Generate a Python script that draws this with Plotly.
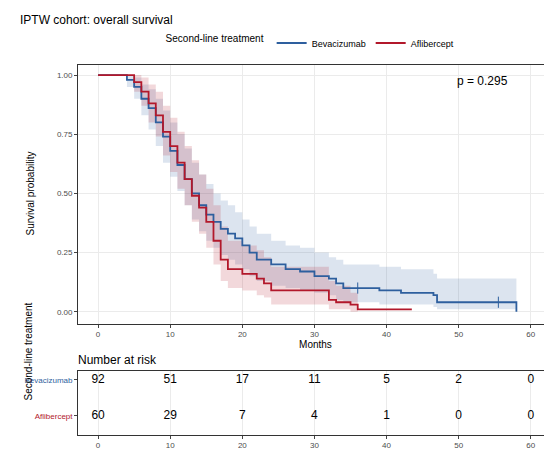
import plotly.graph_objects as go

bev_t = [0, 4, 5, 6, 7, 8, 9, 10, 11, 12, 13, 14, 15, 16, 17, 18, 19, 20, 21, 22, 24, 26, 28, 30, 32, 33, 34, 39, 42, 46.5, 47, 58, 58]
bev_s = [1.0, 0.98, 0.95, 0.9, 0.86, 0.8, 0.74, 0.68, 0.62, 0.56, 0.5, 0.45, 0.41, 0.38, 0.35, 0.33, 0.31, 0.28, 0.25, 0.22, 0.2, 0.18, 0.17, 0.15, 0.14, 0.12, 0.1, 0.09, 0.08, 0.07, 0.04, 0.04, 0.0]
bev_lo = [1.0, 0.95, 0.9, 0.83, 0.77, 0.7, 0.63, 0.57, 0.51, 0.45, 0.39, 0.34, 0.3, 0.27, 0.24, 0.22, 0.2, 0.18, 0.15, 0.13, 0.11, 0.1, 0.09, 0.08, 0.07, 0.05, 0.04, 0.03, 0.03, 0.02, 0.01, 0.01, 0.01]
bev_hi = [1.0, 1.0, 0.99, 0.96, 0.94, 0.9, 0.85, 0.8, 0.75, 0.69, 0.63, 0.58, 0.54, 0.5, 0.47, 0.45, 0.42, 0.39, 0.36, 0.33, 0.3, 0.28, 0.27, 0.25, 0.23, 0.22, 0.2, 0.19, 0.18, 0.16, 0.14, 0.14, 0.14]

afl_t = [0, 5, 6, 7, 8, 9, 10, 11, 12, 13, 14, 15, 16, 17, 18, 20, 22, 23, 24, 32, 33, 35, 36, 43.5]
afl_s = [1.0, 0.97, 0.93, 0.88, 0.83, 0.76, 0.7, 0.63, 0.56, 0.49, 0.44, 0.38, 0.3, 0.22, 0.18, 0.16, 0.14, 0.12, 0.09, 0.05, 0.04, 0.03, 0.01, 0.01]
afl_lo = [1.0, 0.93, 0.87, 0.8, 0.74, 0.66, 0.59, 0.52, 0.45, 0.38, 0.33, 0.27, 0.2, 0.13, 0.1, 0.09, 0.07, 0.06, 0.03, 0.01, 0.01, 0.0, 0.0, 0.0]
afl_hi = [1.0, 1.0, 0.99, 0.96, 0.93, 0.87, 0.82, 0.76, 0.7, 0.64, 0.58, 0.52, 0.45, 0.36, 0.3, 0.28, 0.26, 0.23, 0.19, 0.13, 0.11, 0.08, 0.0, 0.0]

bev_cens_t = [36, 55.5]
bev_cens_s = [0.10, 0.04]

risk_times = [0, 10, 20, 30, 40, 50, 60]
bev_risk = [92, 51, 17, 11, 5, 2, 0]
afl_risk = [60, 29, 7, 4, 1, 0, 0]

BLUE = "#2e5f9e"
RED = "#b2182b"

fig = go.Figure()
for t, lo, hi, fc in [(bev_t, bev_lo, bev_hi, "rgba(46,95,158,0.17)"),
                      (afl_t, afl_lo, afl_hi, "rgba(178,24,43,0.17)")]:
    fig.add_trace(go.Scatter(x=t, y=lo, mode="lines", line=dict(width=0, shape="hv"), showlegend=False, hoverinfo="skip"))
    fig.add_trace(go.Scatter(x=t, y=hi, mode="lines", line=dict(width=0, shape="hv"), fill="tonexty",
                             fillcolor=fc, showlegend=False, hoverinfo="skip"))
fig.add_trace(go.Scatter(x=bev_t, y=bev_s, mode="lines", name="Bevacizumab", legendrank=1,
                         line=dict(color=BLUE, width=1.8, shape="hv")))
fig.add_trace(go.Scatter(x=afl_t, y=afl_s, mode="lines", name="Aflibercept", legendrank=2,
                         line=dict(color=RED, width=1.8, shape="hv")))
fig.add_trace(go.Scatter(x=bev_cens_t, y=bev_cens_s, mode="markers", showlegend=False,
                         marker=dict(symbol="line-ns", size=8, line=dict(color=BLUE, width=1))))

for vals, yv in [(bev_risk, 1), (afl_risk, 0)]:
    fig.add_trace(go.Scatter(x=risk_times, y=[yv] * len(vals), mode="text", text=[str(v) for v in vals],
                             textfont=dict(size=12, color="black"), xaxis="x2", yaxis="y2", showlegend=False))

grid = "#ebebeb"
tickf = dict(size=8, color="#4d4d4d", family="Liberation Sans")
common = dict(showgrid=True, gridcolor=grid, showline=True, linecolor="#333", mirror=True,
              ticks="outside", ticklen=3, tickfont=tickf, zeroline=False, automargin=False)
fig.update_layout(
    width=552, height=457, margin=dict(l=0, r=0, t=0, b=0),
    paper_bgcolor="white", plot_bgcolor="white",
    font=dict(family="Liberation Sans", color="black"),
    xaxis=dict(domain=[0.127, 0.987], range=[-2.77, 63.05], tickvals=[0, 10, 20, 30, 40, 50, 60],
               title=dict(text="Months", font=dict(size=10, color="black"), standoff=0), anchor="y", **common),
    yaxis=dict(domain=[0.309, 0.875], range=[-0.051, 1.042], tickvals=[0, 0.25, 0.5, 0.75, 1.0],
               ticktext=["0.00", "0.25", "0.50", "0.75", "1.00"], anchor="x", **common),
    xaxis2=dict(domain=[0.127, 0.987], range=[-2.77, 63.05], tickvals=[0, 10, 20, 30, 40, 50, 60],
                anchor="y2", **common),
    yaxis2=dict(domain=[0.066, 0.206], range=[-0.53, 1.25], tickvals=[1, 0],
                ticktext=["<span style='color:#2e5f9e'>Bevacizumab</span>", "<span style='color:#b2182b'>Aflibercept</span>"],
                showgrid=False, showline=True, linecolor="#333", mirror=True, automargin=False,
                ticks="outside", ticklen=3, tickfont=dict(size=8), zeroline=False, anchor="x2"),
    legend=dict(orientation="h", x=0.55, xanchor="center", y=1 - 35 / 457, yanchor="middle",
                traceorder="normal", bgcolor="rgba(0,0,0,0)",
                title=dict(text="Second-line treatment", font=dict(size=10), side="left"), font=dict(size=9)),
    annotations=[
        dict(text="IPTW cohort: overall survival", x=10 / 552, y=1 - 12 / 457, xref="paper", yref="paper",
             xanchor="left", yanchor="middle", showarrow=False, font=dict(size=12)),
        dict(text="p = 0.295", x=49.5, y=0.975, xref="x", yref="y", showarrow=False, xanchor="left",
             font=dict(size=12)),
        dict(text="Survival probability", x=14 / 552, y=1 - 186 / 457, xref="paper", yref="paper",
             textangle=-90, showarrow=False, font=dict(size=10)),
        dict(text="Number at risk", x=68 / 552, y=1 - 352 / 457, xref="paper", yref="paper",
             xanchor="left", yanchor="middle", showarrow=False, font=dict(size=12)),
        dict(text="Second-line treatment", x=12 / 552, y=1 - 395 / 457, xref="paper", yref="paper",
             textangle=-90, showarrow=False, font=dict(size=10)),
    ],
)
fig.write_html("out.html")
